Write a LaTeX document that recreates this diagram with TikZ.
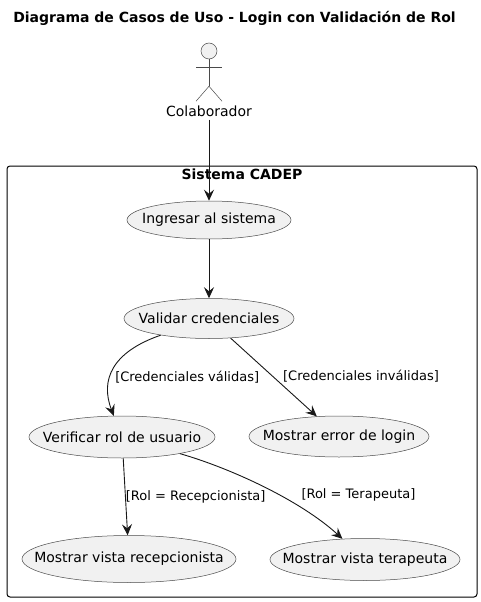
\documentclass[tikz,border=0pt]{standalone}
\usepackage{fontspec}
\setmainfont{DejaVu Sans}
\usetikzlibrary{shapes.geometric, arrows.meta, positioning}
\definecolor{umlline}{HTML}{181818}
\definecolor{umlthin}{HTML}{4A4A4A}
\definecolor{umlfill}{HTML}{F1F1F1}

\begin{document}
\begin{tikzpicture}[
    x=1pt, y=1pt,
    usecase/.style={ellipse, draw=umlthin, fill=umlfill, line width=0.5pt, inner xsep=-25pt, inner ysep=0pt, font=\fontsize{14}{16}\selectfont, text=black},
    system/.style={rectangle, draw=black, line width=1pt, rounded corners=3pt, minimum width=470pt, minimum height=431pt, inner sep=0pt},
    flow/.style={-{Stealth[length=11pt, width=10pt, inset=4pt]}, umlline, line width=0.9pt},
    guard/.style={font=\fontsize{13}{15}\selectfont, text=black, inner sep=0pt}
]
    \useasboundingbox (0,0) rectangle (481,-602);

    \node[font=\bfseries\fontsize{14}{16}\selectfont, inner sep=0pt] (title) at (234.5,-18) {Diagrama de Casos de Uso - Login con Validación de Rol};

    \node[system] (sistema) at (242,-381.5) {};
    \node[font=\bfseries\fontsize{14}{16}\selectfont, inner sep=0pt, below=3pt of sistema.north] (sistemalabel) {Sistema CADEP};

    % actor
    \node[circle, draw=umlthin, fill=umlfill, line width=0.5pt, minimum size=16pt, inner sep=0pt] (head) at (209,-51) {};
    \coordinate[below=27pt of head.south] (hip);
    \coordinate[below=15pt of hip, xshift=-13pt] (footleft);
    \coordinate[below=15pt of hip, xshift=13pt] (footright);
    \coordinate[below=8pt of head.south, xshift=-13pt] (armleft);
    \coordinate[below=8pt of head.south, xshift=13pt] (armright);
    \draw[umlthin, line width=0.5pt] (head.south) -- (hip);
    \draw[umlthin, line width=0.5pt] (armleft) -- (armright);
    \draw[umlthin, line width=0.5pt] (footleft) -- (hip) -- (footright);
    \node[font=\fontsize{14}{16}\selectfont, inner sep=0pt, below=2pt of footleft, xshift=13pt, minimum height=16pt] (colaborador) {Colaborador};

    \node[usecase, minimum width=164pt, minimum height=38pt] (ingresar) at (209,-220) {Ingresar al sistema};
    \node[usecase, minimum width=170pt, minimum height=40pt, below=59pt of ingresar] (validar) {Validar credenciales};
    \node[usecase, minimum width=186pt, minimum height=42pt, below=77pt of validar, xshift=-87pt] (verificar) {Verificar rol de usuario};
    \node[usecase, minimum width=180pt, minimum height=41pt, below=77pt of validar, xshift=130pt] (error) {Mostrar error de login};
    \node[usecase, minimum width=214pt, minimum height=47pt, below=77pt of verificar, xshift=7pt] (recepcion) {Mostrar vista recepcionista};
    \node[usecase, minimum width=190pt, minimum height=42pt, below=81pt of error, xshift=26pt] (terapeuta) {Mostrar vista terapeuta};

    \draw[flow] (colaborador) -- (ingresar);
    \draw[flow] (ingresar) -- (validar);
    \draw[flow] (validar) .. controls (112,-352) and (100,-380) .. node[guard, right, pos=.5, xshift=1pt, yshift=-9pt] {[Credenciales válidas]} (verificar);
    \draw[flow] (validar) -- node[guard, right, pos=.5, xshift=9pt, yshift=1pt] {[Credenciales inválidas]} (error);
    \draw[flow] (verificar) -- node[guard, right, pos=.5] {[Rol = Recepcionista]} (recepcion);
    \draw[flow] (verificar) .. controls (230,-468) and (300,-500) .. node[guard, right, pos=.5, xshift=37pt, yshift=-8pt] {[Rol = Terapeuta]} (terapeuta);
\end{tikzpicture}
\end{document}
